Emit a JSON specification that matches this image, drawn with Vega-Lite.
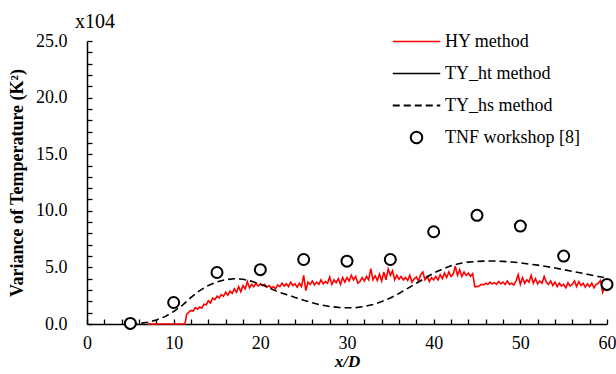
{
  "$schema": "https://vega.github.io/schema/vega-lite/v6.json",
  "width": 520,
  "height": 283,
  "autosize": {"type": "none"},
  "padding": {"left": 87, "top": 41, "right": 9, "bottom": 50},
  "background": "white",
  "title": {"text": "x104", "anchor": "start", "frame": "group", "dx": -12, "dy": 29, "offset": 12, "baseline": "alphabetic", "font": "Liberation Serif", "fontSize": 20, "fontWeight": "normal", "color": "black"},
  "config": {
    "view": {"stroke": null},
    "axis": {"grid": false, "domainColor": "black", "domainWidth": 1.5, "tickColor": "black", "tickWidth": 1.3, "labelFont": "Liberation Serif", "labelFontSize": 18, "labelColor": "black", "titleFont": "Liberation Serif", "titleColor": "black", "labelFlush": false, "labelOverlap": false}
  },
  "data": {"values": [
    {"x": 7, "v": 0, "s": "HY method"},
    {"x": 11.3, "v": 0, "s": "HY method"},
    {"x": 11.5, "v": 0.85, "s": "HY method"},
    {"x": 11.75, "v": 1.05, "s": "HY method"},
    {"x": 12, "v": 1.2, "s": "HY method"},
    {"x": 12.25, "v": 1.15, "s": "HY method"},
    {"x": 12.5, "v": 1.45, "s": "HY method"},
    {"x": 12.75, "v": 1.3, "s": "HY method"},
    {"x": 13, "v": 1.5, "s": "HY method"},
    {"x": 13.25, "v": 1.4, "s": "HY method"},
    {"x": 13.5, "v": 1.75, "s": "HY method"},
    {"x": 13.75, "v": 1.7, "s": "HY method"},
    {"x": 14, "v": 2.05, "s": "HY method"},
    {"x": 14.25, "v": 1.85, "s": "HY method"},
    {"x": 14.5, "v": 2.3, "s": "HY method"},
    {"x": 14.75, "v": 2.15, "s": "HY method"},
    {"x": 15, "v": 2.45, "s": "HY method"},
    {"x": 15.25, "v": 2.3, "s": "HY method"},
    {"x": 15.5, "v": 2.6, "s": "HY method"},
    {"x": 15.75, "v": 2.45, "s": "HY method"},
    {"x": 16, "v": 2.8, "s": "HY method"},
    {"x": 16.25, "v": 2.55, "s": "HY method"},
    {"x": 16.5, "v": 2.9, "s": "HY method"},
    {"x": 16.75, "v": 2.7, "s": "HY method"},
    {"x": 17, "v": 3.1, "s": "HY method"},
    {"x": 17.25, "v": 2.8, "s": "HY method"},
    {"x": 17.5, "v": 3.3, "s": "HY method"},
    {"x": 17.75, "v": 2.85, "s": "HY method"},
    {"x": 18, "v": 3.4, "s": "HY method"},
    {"x": 18.25, "v": 3.1, "s": "HY method"},
    {"x": 18.5, "v": 3.75, "s": "HY method"},
    {"x": 18.75, "v": 3.2, "s": "HY method"},
    {"x": 19, "v": 3.5, "s": "HY method"},
    {"x": 19.25, "v": 3.3, "s": "HY method"},
    {"x": 19.5, "v": 3.6, "s": "HY method"},
    {"x": 19.75, "v": 3.35, "s": "HY method"},
    {"x": 20, "v": 3.55, "s": "HY method"},
    {"x": 20.25, "v": 3.4, "s": "HY method"},
    {"x": 20.5, "v": 3.5, "s": "HY method"},
    {"x": 20.75, "v": 3.25, "s": "HY method"},
    {"x": 21, "v": 3.4, "s": "HY method"},
    {"x": 21.25, "v": 3.2, "s": "HY method"},
    {"x": 21.5, "v": 3.3, "s": "HY method"},
    {"x": 21.75, "v": 3.1, "s": "HY method"},
    {"x": 22, "v": 3.45, "s": "HY method"},
    {"x": 22.25, "v": 3.3, "s": "HY method"},
    {"x": 22.5, "v": 3.6, "s": "HY method"},
    {"x": 22.75, "v": 3.35, "s": "HY method"},
    {"x": 23, "v": 3.55, "s": "HY method"},
    {"x": 23.25, "v": 3.3, "s": "HY method"},
    {"x": 23.5, "v": 3.7, "s": "HY method"},
    {"x": 23.75, "v": 3.4, "s": "HY method"},
    {"x": 24, "v": 3.55, "s": "HY method"},
    {"x": 24.25, "v": 3.25, "s": "HY method"},
    {"x": 24.5, "v": 3.6, "s": "HY method"},
    {"x": 24.75, "v": 3.3, "s": "HY method"},
    {"x": 25, "v": 4.3, "s": "HY method"},
    {"x": 25.25, "v": 2.95, "s": "HY method"},
    {"x": 25.5, "v": 3.7, "s": "HY method"},
    {"x": 25.75, "v": 3.5, "s": "HY method"},
    {"x": 26, "v": 3.8, "s": "HY method"},
    {"x": 26.25, "v": 3.45, "s": "HY method"},
    {"x": 26.5, "v": 3.7, "s": "HY method"},
    {"x": 26.75, "v": 3.5, "s": "HY method"},
    {"x": 27, "v": 3.9, "s": "HY method"},
    {"x": 27.25, "v": 3.55, "s": "HY method"},
    {"x": 27.5, "v": 3.75, "s": "HY method"},
    {"x": 27.75, "v": 3.6, "s": "HY method"},
    {"x": 28, "v": 4.15, "s": "HY method"},
    {"x": 28.25, "v": 3.5, "s": "HY method"},
    {"x": 28.5, "v": 3.9, "s": "HY method"},
    {"x": 28.75, "v": 3.65, "s": "HY method"},
    {"x": 29, "v": 4.0, "s": "HY method"},
    {"x": 29.25, "v": 3.5, "s": "HY method"},
    {"x": 29.5, "v": 4.1, "s": "HY method"},
    {"x": 29.75, "v": 3.7, "s": "HY method"},
    {"x": 30, "v": 4.1, "s": "HY method"},
    {"x": 30.25, "v": 3.8, "s": "HY method"},
    {"x": 30.5, "v": 4.3, "s": "HY method"},
    {"x": 30.75, "v": 3.9, "s": "HY method"},
    {"x": 31, "v": 4.2, "s": "HY method"},
    {"x": 31.25, "v": 3.6, "s": "HY method"},
    {"x": 31.5, "v": 3.75, "s": "HY method"},
    {"x": 31.75, "v": 4.1, "s": "HY method"},
    {"x": 32, "v": 3.8, "s": "HY method"},
    {"x": 32.25, "v": 4.2, "s": "HY method"},
    {"x": 32.5, "v": 3.9, "s": "HY method"},
    {"x": 32.75, "v": 4.9, "s": "HY method"},
    {"x": 33, "v": 3.9, "s": "HY method"},
    {"x": 33.25, "v": 4.25, "s": "HY method"},
    {"x": 33.5, "v": 3.85, "s": "HY method"},
    {"x": 33.75, "v": 4.4, "s": "HY method"},
    {"x": 34, "v": 3.8, "s": "HY method"},
    {"x": 34.25, "v": 4.6, "s": "HY method"},
    {"x": 34.5, "v": 3.9, "s": "HY method"},
    {"x": 34.75, "v": 4.85, "s": "HY method"},
    {"x": 35, "v": 4.3, "s": "HY method"},
    {"x": 35.25, "v": 4.7, "s": "HY method"},
    {"x": 35.5, "v": 3.9, "s": "HY method"},
    {"x": 35.75, "v": 4.3, "s": "HY method"},
    {"x": 36, "v": 3.95, "s": "HY method"},
    {"x": 36.25, "v": 4.2, "s": "HY method"},
    {"x": 36.5, "v": 3.9, "s": "HY method"},
    {"x": 36.75, "v": 4.1, "s": "HY method"},
    {"x": 37, "v": 3.85, "s": "HY method"},
    {"x": 37.25, "v": 4.3, "s": "HY method"},
    {"x": 37.5, "v": 3.7, "s": "HY method"},
    {"x": 37.75, "v": 4.0, "s": "HY method"},
    {"x": 38, "v": 4.15, "s": "HY method"},
    {"x": 38.25, "v": 3.8, "s": "HY method"},
    {"x": 38.5, "v": 4.35, "s": "HY method"},
    {"x": 38.75, "v": 4.6, "s": "HY method"},
    {"x": 39, "v": 3.9, "s": "HY method"},
    {"x": 39.25, "v": 4.2, "s": "HY method"},
    {"x": 39.5, "v": 3.75, "s": "HY method"},
    {"x": 39.75, "v": 4.1, "s": "HY method"},
    {"x": 40, "v": 3.9, "s": "HY method"},
    {"x": 40.25, "v": 4.2, "s": "HY method"},
    {"x": 40.5, "v": 3.9, "s": "HY method"},
    {"x": 40.75, "v": 4.35, "s": "HY method"},
    {"x": 41, "v": 4.0, "s": "HY method"},
    {"x": 41.25, "v": 4.5, "s": "HY method"},
    {"x": 41.5, "v": 4.1, "s": "HY method"},
    {"x": 41.75, "v": 4.6, "s": "HY method"},
    {"x": 42, "v": 4.2, "s": "HY method"},
    {"x": 42.25, "v": 4.4, "s": "HY method"},
    {"x": 42.5, "v": 5.1, "s": "HY method"},
    {"x": 42.75, "v": 4.3, "s": "HY method"},
    {"x": 43, "v": 4.8, "s": "HY method"},
    {"x": 43.25, "v": 4.2, "s": "HY method"},
    {"x": 43.5, "v": 4.6, "s": "HY method"},
    {"x": 43.75, "v": 4.3, "s": "HY method"},
    {"x": 44, "v": 4.5, "s": "HY method"},
    {"x": 44.25, "v": 4.2, "s": "HY method"},
    {"x": 44.5, "v": 4.45, "s": "HY method"},
    {"x": 44.75, "v": 3.3, "s": "HY method"},
    {"x": 45, "v": 3.3, "s": "HY method"},
    {"x": 45.25, "v": 3.35, "s": "HY method"},
    {"x": 45.5, "v": 3.5, "s": "HY method"},
    {"x": 45.75, "v": 3.45, "s": "HY method"},
    {"x": 46, "v": 3.6, "s": "HY method"},
    {"x": 46.25, "v": 3.5, "s": "HY method"},
    {"x": 46.5, "v": 3.7, "s": "HY method"},
    {"x": 46.75, "v": 3.55, "s": "HY method"},
    {"x": 47, "v": 3.65, "s": "HY method"},
    {"x": 47.25, "v": 3.5, "s": "HY method"},
    {"x": 47.5, "v": 3.75, "s": "HY method"},
    {"x": 47.75, "v": 3.55, "s": "HY method"},
    {"x": 48, "v": 3.7, "s": "HY method"},
    {"x": 48.25, "v": 3.5, "s": "HY method"},
    {"x": 48.5, "v": 3.8, "s": "HY method"},
    {"x": 48.75, "v": 3.5, "s": "HY method"},
    {"x": 49, "v": 3.6, "s": "HY method"},
    {"x": 49.25, "v": 3.45, "s": "HY method"},
    {"x": 49.5, "v": 3.8, "s": "HY method"},
    {"x": 49.75, "v": 4.35, "s": "HY method"},
    {"x": 50, "v": 3.5, "s": "HY method"},
    {"x": 50.25, "v": 4.1, "s": "HY method"},
    {"x": 50.5, "v": 3.6, "s": "HY method"},
    {"x": 50.75, "v": 3.9, "s": "HY method"},
    {"x": 51, "v": 3.7, "s": "HY method"},
    {"x": 51.25, "v": 4.3, "s": "HY method"},
    {"x": 51.5, "v": 3.6, "s": "HY method"},
    {"x": 51.75, "v": 4.0, "s": "HY method"},
    {"x": 52, "v": 3.55, "s": "HY method"},
    {"x": 52.25, "v": 3.8, "s": "HY method"},
    {"x": 52.5, "v": 3.6, "s": "HY method"},
    {"x": 52.75, "v": 4.2, "s": "HY method"},
    {"x": 53, "v": 3.7, "s": "HY method"},
    {"x": 53.25, "v": 3.5, "s": "HY method"},
    {"x": 53.5, "v": 3.8, "s": "HY method"},
    {"x": 53.75, "v": 3.4, "s": "HY method"},
    {"x": 54, "v": 3.7, "s": "HY method"},
    {"x": 54.25, "v": 3.3, "s": "HY method"},
    {"x": 54.5, "v": 3.6, "s": "HY method"},
    {"x": 54.75, "v": 3.35, "s": "HY method"},
    {"x": 55, "v": 3.5, "s": "HY method"},
    {"x": 55.25, "v": 3.2, "s": "HY method"},
    {"x": 55.5, "v": 3.65, "s": "HY method"},
    {"x": 55.75, "v": 3.35, "s": "HY method"},
    {"x": 56, "v": 3.5, "s": "HY method"},
    {"x": 56.25, "v": 3.8, "s": "HY method"},
    {"x": 56.5, "v": 3.3, "s": "HY method"},
    {"x": 56.75, "v": 3.75, "s": "HY method"},
    {"x": 57, "v": 3.4, "s": "HY method"},
    {"x": 57.25, "v": 3.6, "s": "HY method"},
    {"x": 57.5, "v": 3.25, "s": "HY method"},
    {"x": 57.75, "v": 3.55, "s": "HY method"},
    {"x": 58, "v": 3.3, "s": "HY method"},
    {"x": 58.25, "v": 3.6, "s": "HY method"},
    {"x": 58.5, "v": 3.2, "s": "HY method"},
    {"x": 58.75, "v": 3.5, "s": "HY method"},
    {"x": 59, "v": 3.6, "s": "HY method"},
    {"x": 59.25, "v": 3.85, "s": "HY method"},
    {"x": 59.5, "v": 2.8, "s": "HY method"},
    {"x": 59.75, "v": 3.2, "s": "HY method"},
    {"x": 60, "v": 2.9, "s": "HY method"},
    {"x": 5, "v": 0.02, "s": "TY_hs method"},
    {"x": 6, "v": 0.05, "s": "TY_hs method"},
    {"x": 7, "v": 0.15, "s": "TY_hs method"},
    {"x": 8, "v": 0.35, "s": "TY_hs method"},
    {"x": 9, "v": 0.65, "s": "TY_hs method"},
    {"x": 10, "v": 1.1, "s": "TY_hs method"},
    {"x": 11, "v": 1.65, "s": "TY_hs method"},
    {"x": 12, "v": 2.35, "s": "TY_hs method"},
    {"x": 13, "v": 2.95, "s": "TY_hs method"},
    {"x": 14, "v": 3.4, "s": "TY_hs method"},
    {"x": 15, "v": 3.72, "s": "TY_hs method"},
    {"x": 16, "v": 3.92, "s": "TY_hs method"},
    {"x": 17, "v": 4.0, "s": "TY_hs method"},
    {"x": 18, "v": 3.95, "s": "TY_hs method"},
    {"x": 19, "v": 3.77, "s": "TY_hs method"},
    {"x": 20, "v": 3.52, "s": "TY_hs method"},
    {"x": 21, "v": 3.2, "s": "TY_hs method"},
    {"x": 22, "v": 2.85, "s": "TY_hs method"},
    {"x": 23, "v": 2.6, "s": "TY_hs method"},
    {"x": 24, "v": 2.35, "s": "TY_hs method"},
    {"x": 25, "v": 2.1, "s": "TY_hs method"},
    {"x": 26, "v": 1.88, "s": "TY_hs method"},
    {"x": 27, "v": 1.68, "s": "TY_hs method"},
    {"x": 28, "v": 1.55, "s": "TY_hs method"},
    {"x": 29, "v": 1.47, "s": "TY_hs method"},
    {"x": 30, "v": 1.43, "s": "TY_hs method"},
    {"x": 31, "v": 1.45, "s": "TY_hs method"},
    {"x": 32, "v": 1.55, "s": "TY_hs method"},
    {"x": 33, "v": 1.72, "s": "TY_hs method"},
    {"x": 34, "v": 1.98, "s": "TY_hs method"},
    {"x": 35, "v": 2.3, "s": "TY_hs method"},
    {"x": 36, "v": 2.7, "s": "TY_hs method"},
    {"x": 37, "v": 3.15, "s": "TY_hs method"},
    {"x": 38, "v": 3.6, "s": "TY_hs method"},
    {"x": 39, "v": 4.05, "s": "TY_hs method"},
    {"x": 40, "v": 4.5, "s": "TY_hs method"},
    {"x": 41, "v": 4.85, "s": "TY_hs method"},
    {"x": 42, "v": 5.15, "s": "TY_hs method"},
    {"x": 43, "v": 5.35, "s": "TY_hs method"},
    {"x": 44, "v": 5.47, "s": "TY_hs method"},
    {"x": 45, "v": 5.53, "s": "TY_hs method"},
    {"x": 46, "v": 5.56, "s": "TY_hs method"},
    {"x": 47, "v": 5.56, "s": "TY_hs method"},
    {"x": 48, "v": 5.53, "s": "TY_hs method"},
    {"x": 49, "v": 5.48, "s": "TY_hs method"},
    {"x": 50, "v": 5.4, "s": "TY_hs method"},
    {"x": 51, "v": 5.3, "s": "TY_hs method"},
    {"x": 52, "v": 5.2, "s": "TY_hs method"},
    {"x": 53, "v": 5.08, "s": "TY_hs method"},
    {"x": 54, "v": 4.95, "s": "TY_hs method"},
    {"x": 55, "v": 4.8, "s": "TY_hs method"},
    {"x": 56, "v": 4.65, "s": "TY_hs method"},
    {"x": 57, "v": 4.5, "s": "TY_hs method"},
    {"x": 58, "v": 4.35, "s": "TY_hs method"},
    {"x": 59, "v": 4.2, "s": "TY_hs method"},
    {"x": 60, "v": 4.05, "s": "TY_hs method"},
    {"x": 5, "v": 0.05, "s": "TNF workshop [8]"},
    {"x": 10, "v": 1.9, "s": "TNF workshop [8]"},
    {"x": 15, "v": 4.55, "s": "TNF workshop [8]"},
    {"x": 20, "v": 4.8, "s": "TNF workshop [8]"},
    {"x": 25, "v": 5.7, "s": "TNF workshop [8]"},
    {"x": 30, "v": 5.55, "s": "TNF workshop [8]"},
    {"x": 35, "v": 5.7, "s": "TNF workshop [8]"},
    {"x": 40, "v": 8.15, "s": "TNF workshop [8]"},
    {"x": 45, "v": 9.6, "s": "TNF workshop [8]"},
    {"x": 50, "v": 8.65, "s": "TNF workshop [8]"},
    {"x": 55, "v": 6.0, "s": "TNF workshop [8]"},
    {"x": 60, "v": 3.5, "s": "TNF workshop [8]"}
  ]},
  "encoding": {
    "x": {"field": "x", "type": "quantitative", "scale": {"domain": [0, 60], "nice": false, "zero": false},
      "axis": {"title": "x/D", "titleFontSize": 17, "titleFontWeight": "bold", "titleFontStyle": "italic", "titlePadding": 1, "values": [0,2,4,6,8,10,12,14,16,18,20,22,24,26,28,30,32,34,36,38,40,42,44,46,48,50,52,54,56,58,60], "labelExpr": "datum.value % 10 === 0 ? datum.label : ''", "tickSize": -5, "labelPadding": 15}},
    "y": {"field": "v", "type": "quantitative", "scale": {"domain": [0, 25], "nice": false},
      "axis": {"title": "Variance of Temperature (K²)", "titleFontSize": 18, "titleFontWeight": "bold", "titlePadding": 9, "values": [0,1,2,3,4,5,6,7,8,9,10,11,12,13,14,15,16,17,18,19,20,21,22,23,24,25], "labelExpr": "datum.value % 5 === 0 ? format(datum.value, '.1f') : ''", "tickSize": -5, "labelPadding": 25}}
  },
  "layer": [
    {
      "transform": [{"filter": "datum.s !== 'TNF workshop [8]'"}],
      "mark": {"type": "line", "strokeWidth": 1.6},
      "encoding": {
        "color": {"field": "s", "type": "nominal", "scale": {"domain": ["HY method", "TY_ht method", "TY_hs method", "TNF workshop [8]"], "range": ["#ff0000", "#000000", "#000000", "#000000"]},
          "legend": {"orient": "none", "legendX": 305, "legendY": -10, "title": null, "padding": 0, "labelFont": "Liberation Serif", "labelFontSize": 18, "labelColor": "black", "symbolSize": 361, "symbolOffset": 14, "labelOffset": 18, "rowPadding": 12, "symbolStrokeWidth": 2, "symbolFillColor": "white", "encode": {"symbols": {"update": {"fill": {"value": "white"}}}}}},
        "strokeDash": {"field": "s", "type": "nominal", "scale": {"domain": ["HY method", "TY_ht method", "TY_hs method", "TNF workshop [8]"], "range": [[1, 0], [1, 0], [7, 4], [1, 0]]}},
        "strokeWidth": {"field": "s", "type": "nominal", "scale": {"domain": ["HY method", "TY_ht method", "TY_hs method", "TNF workshop [8]"], "range": [1.5, 2, 2, 2]}, "legend": null}
      }
    },
    {
      "transform": [{"filter": "datum.s === 'TNF workshop [8]'"}],
      "mark": {"type": "point", "filled": false, "fill": "white", "strokeWidth": 2, "size": 336, "opacity": 1},
      "encoding": {
        "color": {"field": "s", "type": "nominal"},
        "shape": {"field": "s", "type": "nominal", "scale": {"domain": ["HY method", "TY_ht method", "TY_hs method", "TNF workshop [8]"], "range": ["M-2.5,0H2.5", "M-2.5,0H2.5", "M-2.5,0H2.5", "M-0.6,0A0.6,0.6 0 1,1 0.6,0A0.6,0.6 0 1,1 -0.6,0Z"]}}
      }
    }
  ]
}
